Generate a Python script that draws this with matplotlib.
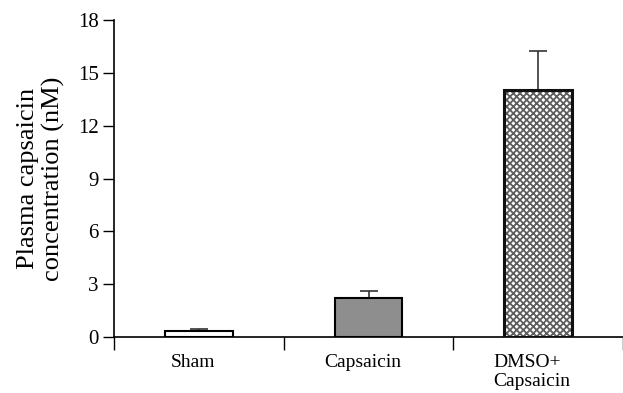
import matplotlib
matplotlib.use("Agg")
import matplotlib.pyplot as plt
from matplotlib.transforms import ScaledTranslation

# Values
groups = ["Sham", "Capsaicin", "DMSO+\nCapsaicin"]
means = [0.35, 2.2, 14.0]
sem_upper = [0.12, 0.4, 2.25]
y_ticks = [0, 3, 6, 9, 12, 15, 18]

plt.rcParams["font.family"] = ["Liberation Serif", "DejaVu Serif"]
plt.rcParams["hatch.linewidth"] = 1.3

fig = plt.figure(figsize=(6.23, 3.93), dpi=100)
ax = fig.add_axes([114 / 623, (393 - 337) / 393, 1 - 114 / 623, (337 - 20) / 393])

x = list(range(len(groups)))
width = 0.4

# fills
ax.bar(x[0], means[0], width=width, color="white", edgecolor="black", linewidth=1.5, zorder=2)
ax.bar(x[1], means[1], width=width, color="#8e8e8e", edgecolor="black", linewidth=1.5, zorder=2)
ax.bar(x[2], means[2], width=width, color="white", edgecolor="#5e5e5e", hatch="xxxxx", linewidth=0, zorder=2)
ax.bar(x[2], means[2], width=width, fill=False, edgecolor="#111111", linewidth=2.2, zorder=3)

# upper error bars only
ax.errorbar(x, means, yerr=[[0] * len(means), sem_upper], fmt="none", ecolor="#333333",
            elinewidth=1.2, capsize=6.5, capthick=1.2, zorder=1)

ax.set_xlim(-0.5, 2.5)
ax.set_ylim(0, 18)
ax.set_yticks(y_ticks)
ax.tick_params(axis="y", direction="out", length=8, width=1, labelsize=15, pad=3)

# boundary ticks on x, category labels as minor ticks
ax.set_xticks([-0.5, 0.5, 1.5, 2.5])
ax.set_xticklabels([])
ax.set_xticks(x, minor=True)
ax.set_xticklabels(groups, minor=True)
ax.tick_params(axis="x", which="major", direction="out", length=9, width=1)
ax.tick_params(axis="x", which="minor", length=0, labelsize=14, pad=12)
for lab in ax.get_xticklabels(minor=True):
    lab.set_horizontalalignment("center")
    lab.set_multialignment("left")
    lab.set_verticalalignment("top")
    lab.set_linespacing(1.2)
    lab.set_transform(lab.get_transform() + ScaledTranslation(-6 / 100, 0, fig.dpi_scale_trans))

for side in ["top", "right"]:
    ax.spines[side].set_visible(False)
ax.spines["left"].set_linewidth(1.2)
ax.spines["bottom"].set_linewidth(1.2)

ax.set_ylabel("Plasma capsaicin\nconcentration (nM)", fontsize=19, labelpad=9)

fig.savefig("out.png", dpi=100)
